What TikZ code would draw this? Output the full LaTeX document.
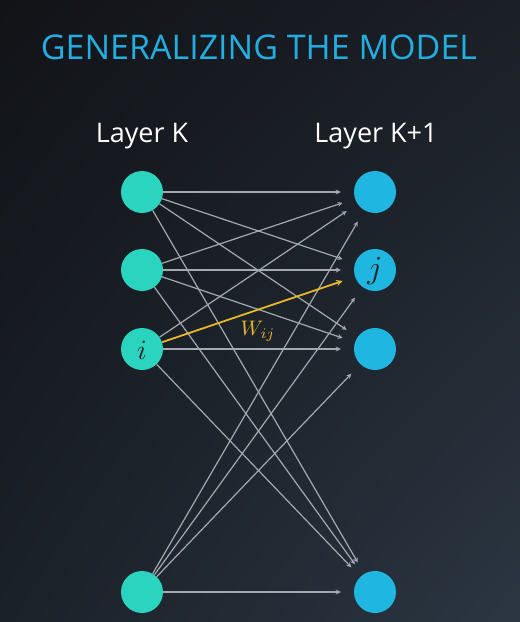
\documentclass[tikz,border=0pt]{standalone}
\usepackage{amsmath}
\usepackage{graphicx}
\usepackage{fontspec}
\setmainfont{Open Sans}
\usepackage{xcolor}
\usepackage{tikz}
\usetikzlibrary{shapes.geometric, arrows, shadings}
\definecolor{bgtl}{HTML}{111317}
\definecolor{bgtr}{HTML}{1B1F26}
\definecolor{bgbl}{HTML}{1B2129}
\definecolor{bgbr}{HTML}{2B3642}
\definecolor{titlecol}{HTML}{22AEE0}
\definecolor{inputcol}{HTML}{2AD4BF}
\definecolor{outputcol}{HTML}{1FB6E2}
\definecolor{wirecol}{HTML}{A3A9B0}
\definecolor{weightcol}{HTML}{E8B828}
\tikzstyle{input} = [circle, minimum size=42pt, inner sep=0pt, fill=inputcol]
\tikzstyle{output} = [circle, minimum size=42pt, inner sep=0pt, fill=outputcol]
\tikzstyle{heading} = [text=white, font=\fontsize{27}{30}\selectfont]
\tikzstyle{link} = [wirecol, line width=1.2pt, ->, >=stealth, shorten >=13pt]
\tikzstyle{weight} = [weightcol, line width=1.8pt, ->, >=stealth, shorten >=13pt]
\tikzstyle{mathlabel} = [inner sep=0pt, text=black!85]

\begin{document}
\begin{tikzpicture}[x=1pt, y=-1pt]
   \shade[upper left=bgtl, upper right=bgtr, lower left=bgbl, lower right=bgbr] (0,0) rectangle (520,622);
   \node (title) [text=titlecol, font=\fontsize{34}{40}\selectfont] at (259,47) {GENERALIZING THE MODEL};
   \node (lk) [heading] at (142,136) {Layer K};
   \node (lk1) [heading] at (376,136) {Layer K+1};
   \node (a1) [input] at (142,192) {};
   \node (a2) [input] at (142,270) {};
   \node (a3) [input] at (142,349) {};
   \node (a4) [input] at (142,592) {};
   \node (b1) [output] at (375,192) {};
   \node (b2) [output] at (375,270) {};
   \node (b3) [output] at (375,349) {};
   \node (b4) [output] at (375,592) {};
   \node (li) [mathlabel] at (142,350) {\scalebox{2.8}{$i$}};
   \node (lj) [mathlabel] at (375,271) {\scalebox{3.2}{$j$}};
   \foreach \s in {1,...,4}
      \foreach \t in {1,...,4}
         {\ifnum\s\t=32 \else \draw [link] (a\s) -- (b\t); \fi}
   \draw [weight] (a3) -- (b2);
   \node (w) [text=weightcol] at (258,331) {\scalebox{2.1}{$W_{ij}$}};
\end{tikzpicture}
\end{document}
